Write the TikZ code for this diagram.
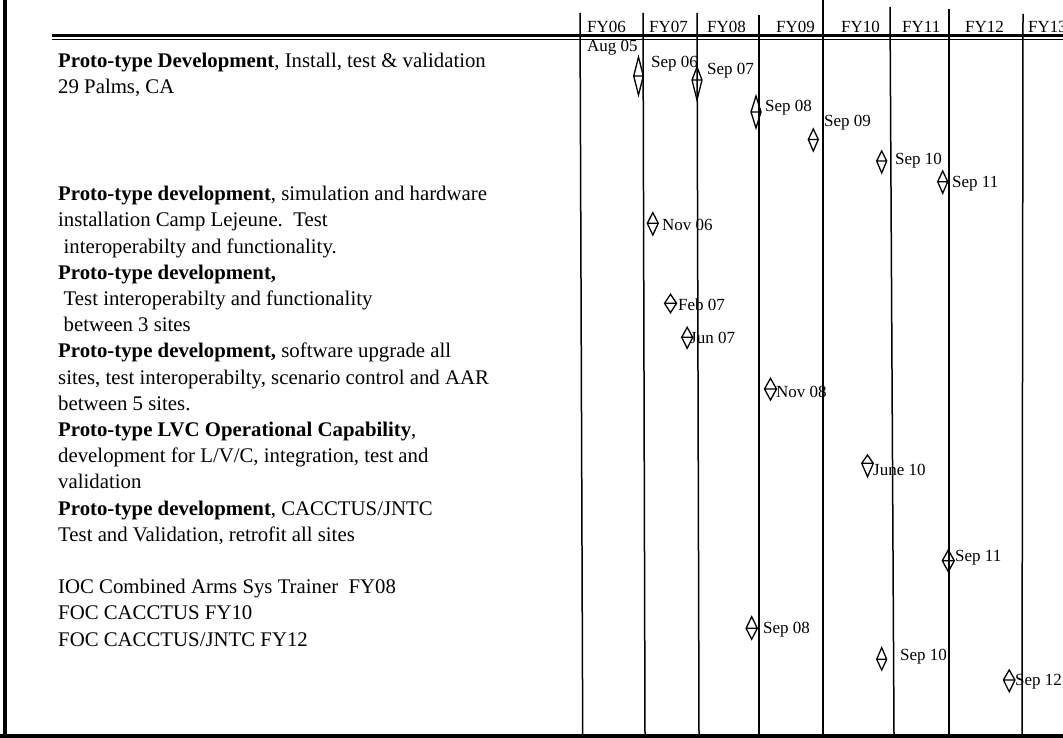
\documentclass[tikz,border=0pt]{standalone}
\usepackage{fontspec}
\setmainfont{Liberation Serif}
\newcommand{\msd}[5]{\draw[dline] (#1,#2) -- (#1+#5,#3) -- (#1,#4) -- (#1-#5,#3) -- cycle (#1-#5,#3) -- (#1+#5,#3);}
\begin{document}
\begin{tikzpicture}[x=1pt,y=-1pt,
  body/.style={anchor=base west, inner sep=0pt, font=\fontsize{20.8}{25}\selectfont},
  lab/.style={anchor=base west, inner sep=0pt, font=\fontsize{17}{20}\selectfont},
  vline/.style={line width=1.5pt},
  dline/.style={line width=1.3pt, line join=miter},
]
\useasboundingbox (0,0) rectangle (1063,738);
\fill[white] (0,0) rectangle (1063,738);
% frame
\draw[line width=4pt] (5,0) -- (5,738);
\draw[line width=3.5pt] (0,736) -- (1063,736);
% header double rule
\draw[line width=2.2pt] (52,35.5) -- (1063,35.5);
\draw[line width=1.2pt] (52,39.8) -- (1063,39.8);
% year columns
\draw[vline] (580,13) -- (582.7,734);
\draw[vline] (643,13) -- (645,734);
\draw[vline] (697,13) -- (699,734);
\draw[vline] (759,15) -- (759,734);
\draw[vline] (823,0) -- (823,734);
\draw[vline] (890,7) -- (894,734);
\draw[vline] (949,9) -- (949,734);
\draw[vline] (1023,14) -- (1022,734);
% headers
\node[lab] (fy06) at (587,33) {FY06};
\node[lab] (fy07) at (649,33) {FY07};
\node[lab] (fy08) at (707,33) {FY08};
\node[lab] (fy09) at (776,33) {FY09};
\node[lab] (fy10) at (841,33) {FY10};
\node[lab] (fy11) at (902,33) {FY11};
\node[lab] (fy12) at (965,33) {FY12};
\node[lab] (fy13) at (1028,33) {FY13};
% left text
\node[body] (a1) at (58,68) {\textbf{Proto-type Development}, Install, test \& validation};
\node[body] (a2) at (58,94) {29 Palms, CA};
\node[body] (b0) at (58,200.7) {\textbf{Proto-type development}, simulation and hardware};
\node[body] (b1) at (58,226.9) {installation Camp Lejeune.\ \ Test};
\node[body] (b2) at (63.5,253.1) {interoperabilty and functionality.};
\node[body] (b3) at (58,279.3) {\textbf{Proto-type development,}};
\node[body] (b4) at (63.5,305.5) {Test interoperabilty and functionality};
\node[body] (b5) at (63.5,331.7) {between 3 sites};
\node[body] (b6) at (58,357.9) {\textbf{Proto-type development,} software upgrade all};
\node[body] (b7) at (58,384.1) {sites, test interoperabilty, scenario control and AAR};
\node[body] (b8) at (58,410.3) {between 5 sites.};
\node[body] (b9) at (58,436.5) {\textbf{Proto-type LVC Operational Capability},};
\node[body] (b10) at (58,462.7) {development for L/V/C, integration, test and};
\node[body] (b11) at (58,488.9) {validation};
\node[body] (b12) at (58,515.1) {\textbf{Proto-type development}, CACCTUS/JNTC};
\node[body] (b13) at (58,541.3) {Test and Validation, retrofit all sites};
\node[body] (c1) at (58,593.7) {IOC Combined Arms Sys Trainer\ \ FY08};
\node[body] (c2) at (58,619.9) {FOC CACCTUS FY10};
\node[body] (c3) at (58,646.1) {FOC CACCTUS/JNTC FY12};
% milestones
\msd{638.5}{57}{76}{95}{4.8}
\msd{697}{67}{80}{100}{5}
\msd{756}{96}{112}{128}{5}
\msd{813.3}{129}{139.5}{151}{5}
\msd{881.7}{151}{161}{173}{5}
\msd{942.7}{171}{181.7}{193.3}{5}
\msd{652.8}{212.7}{223.3}{235}{5.5}
\msd{670.5}{294.3}{303.3}{312.7}{6}
\msd{687.2}{327.3}{337.3}{348.3}{5.5}
\msd{770.5}{378.3}{389}{400}{6}
\msd{867.5}{455}{463.3}{476.7}{5.8}
\msd{948.3}{550}{560.7}{571.7}{6}
\msd{751.7}{616.7}{628.3}{639.3}{5.6}
\msd{881.7}{647.7}{659.3}{670}{5}
\msd{1009.2}{670}{680}{691.7}{5.8}
% milestone labels
\node[lab] (m0) at (587,51.5) {Aug 05};
\node[lab] (m1) at (651,68) {Sep 06};
\node[lab] (m2) at (707,75) {Sep 07};
\node[lab] (m3) at (765,112) {Sep 08};
\node[lab] (m4) at (824,127) {Sep 09};
\node[lab] (m5) at (895,165) {Sep 10};
\node[lab] (m6) at (952,188) {Sep 11};
\node[lab] (m7) at (662,231) {Nov 06};
\node[lab] (m8) at (678,310) {Feb 07};
\node[lab] (m9) at (690,343) {Jun 07};
\node[lab] (m10) at (776,397) {Nov 08};
\node[lab] (m11) at (873,475) {June 10};
\node[lab] (m12) at (955,561) {Sep 11};
\node[lab] (m13) at (763,633) {Sep 08};
\node[lab] (m14) at (900,660) {Sep 10};
\node[lab] (m15) at (1015,685) {Sep 12};
\end{tikzpicture}
\end{document}
